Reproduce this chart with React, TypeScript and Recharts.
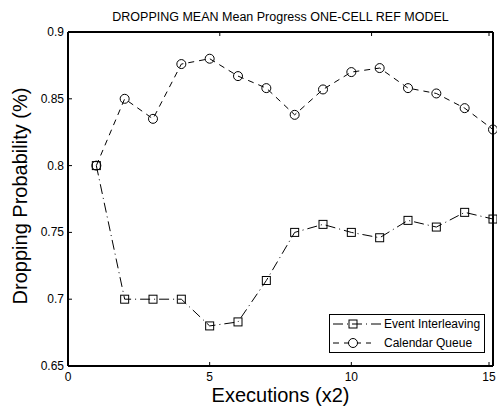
import React from "react";
import { LineChart, Line, XAxis, YAxis } from "recharts";

// simulation runs (x2) and the mean dropping probability for each scheduler
const executions = [1, 2, 3, 4, 5, 6, 7, 8, 9, 10, 11, 12, 13, 14, 15];
const eventInterleaving = [
  0.8, 0.7, 0.7, 0.7, 0.68, 0.683, 0.714, 0.75, 0.756, 0.75, 0.746, 0.759, 0.754, 0.765, 0.76,
];
const calendarQueue = [
  0.8, 0.85, 0.835, 0.876, 0.88, 0.867, 0.858, 0.838, 0.857, 0.87, 0.873, 0.858, 0.854, 0.843, 0.827,
];

const xTicks = [0, 5, 10, 15];
const yTicks = [0.65, 0.7, 0.75, 0.8, 0.85, 0.9];

const chartTitle = "DROPPING MEAN Mean Progress ONE-CELL REF MODEL";
const xTitle = "Executions (x2)";
const yTitle = "Dropping Probability (%)";

const data = executions.map((x, i) => ({
  x,
  ei: eventInterleaving[i],
  cq: calendarQueue[i],
}));

const FONT = "Arial, 'Liberation Sans', sans-serif";
const TICK = 4;
const DASH_EI = "10 4 1 4";
const DASH_CQ = "6 5";
const AXIS = { stroke: "#000", strokeWidth: 2 };

// plot box edges
const LEFT = 68;
const RIGHT = 493;
const TOP = 32;
const BOTTOM = 366;

// MATLAB style ticks point into the plot box
const BottomTick = (p: any) => (
  <g>
    <line x1={p.x} y1={p.y} x2={p.x} y2={p.y - TICK} stroke="#000" />
    <text x={p.x} y={p.y + 15} textAnchor="middle" fontSize={12} fontFamily={FONT} fill="#000">
      {p.payload.value}
    </text>
  </g>
);
const TopTick = (p: any) => (
  <line x1={p.x} y1={p.y} x2={p.x} y2={p.y + TICK} stroke="#000" />
);
const LeftTick = (p: any) => (
  <g>
    <line x1={p.x} y1={p.y} x2={p.x + TICK} y2={p.y} stroke="#000" />
    <text x={p.x - 4} y={p.y + 4} textAnchor="end" fontSize={12} fontFamily={FONT} fill="#000">
      {String(p.payload.value)}
    </text>
  </g>
);
const RightTick = (p: any) => (
  <line x1={p.x} y1={p.y} x2={p.x - TICK} y2={p.y} stroke="#000" />
);

const SquareDot = (p: any) => (
  <rect key={p.key} x={p.cx - 4} y={p.cy - 4} width={8} height={8} fill="none" stroke="#000" strokeWidth={1} />
);
const CircleDot = (p: any) => (
  <circle key={p.key} cx={p.cx} cy={p.cy} r={4.5} fill="none" stroke="#000" strokeWidth={1} />
);

const LegendBox = () => (
  <div
    style={{
      position: "absolute",
      left: 329,
      top: 314,
      width: 156,
      height: 39,
      border: "1px solid #000",
      background: "#fff",
      boxSizing: "border-box",
    }}
  >
    <svg width={154} height={37} style={{ display: "block" }}>
      <line x1={3} y1={9} x2={51} y2={9} stroke="#000" strokeDasharray={DASH_EI} />
      <rect x={19} y={5} width={8} height={8} fill="none" stroke="#000" />
      <text x={54} y={13} fontSize={12} fontFamily={FONT}>Event Interleaving</text>
      <line x1={3} y1={28} x2={41} y2={28} stroke="#000" strokeDasharray={DASH_CQ} />
      <circle cx={23} cy={28} r={4.5} fill="#fff" stroke="#000" />
      <text x={54} y={32} fontSize={12} fontFamily={FONT}>Calendar Queue</text>
    </svg>
  </div>
);

export default function App() {
  return (
    <div style={{ position: "absolute", left: 0, top: 0, width: 497, height: 407, background: "#fff" }}>
      <LineChart
        width={497}
        height={407}
        data={data}
        margin={{ top: 12, right: 0, bottom: 11, left: 28 }}
      >
        <XAxis
          dataKey="x"
          type="number"
          domain={[0, 15]}
          ticks={xTicks}
          height={30}
          tickSize={0}
          tickMargin={0}
          tickLine={false}
          tick={BottomTick}
          axisLine={AXIS}
          label={{
            content: () => (
              <text x={(LEFT + RIGHT) / 2} y={BOTTOM + 36} textAnchor="middle" fontSize={20} fontFamily={FONT}>
                {xTitle}
              </text>
            ),
          }}
        />
        <XAxis
          xAxisId="top"
          orientation="top"
          type="number"
          domain={[0, 15]}
          ticks={xTicks}
          height={20}
          tickSize={0}
          tickMargin={0}
          tickLine={false}
          tick={TopTick}
          axisLine={AXIS}
          label={{
            content: () => (
              <text x={(LEFT + RIGHT) / 2} y={TOP - 11} textAnchor="middle" fontSize={12.5} fontFamily={FONT}>
                {chartTitle}
              </text>
            ),
          }}
        />
        <YAxis
          type="number"
          domain={[0.65, 0.9]}
          ticks={yTicks}
          width={40}
          tickSize={0}
          tickMargin={0}
          tickLine={false}
          tick={LeftTick}
          axisLine={AXIS}
          label={{
            content: () => {
              const cx = 27;
              const cy = (TOP + BOTTOM) / 2 - 3;
              return (
                <text
                  x={cx}
                  y={cy}
                  transform={`rotate(-90 ${cx} ${cy})`}
                  textAnchor="middle"
                  fontSize={20}
                  fontFamily={FONT}
                >
                  {yTitle}
                </text>
              );
            },
          }}
        />
        <YAxis
          yAxisId="right"
          orientation="right"
          type="number"
          domain={[0.65, 0.9]}
          ticks={yTicks}
          width={4}
          tickSize={0}
          tickMargin={0}
          tickLine={false}
          tick={RightTick}
          axisLine={AXIS}
        />
        <Line
          dataKey="cq"
          name="Calendar Queue"
          stroke="#000"
          strokeWidth={1}
          strokeDasharray={DASH_CQ}
          dot={CircleDot}
          activeDot={false}
          isAnimationActive={false}
        />
        <Line
          dataKey="ei"
          name="Event Interleaving"
          stroke="#000"
          strokeWidth={1}
          strokeDasharray={DASH_EI}
          dot={SquareDot}
          activeDot={false}
          isAnimationActive={false}
        />
      </LineChart>
      <LegendBox />
    </div>
  );
}
